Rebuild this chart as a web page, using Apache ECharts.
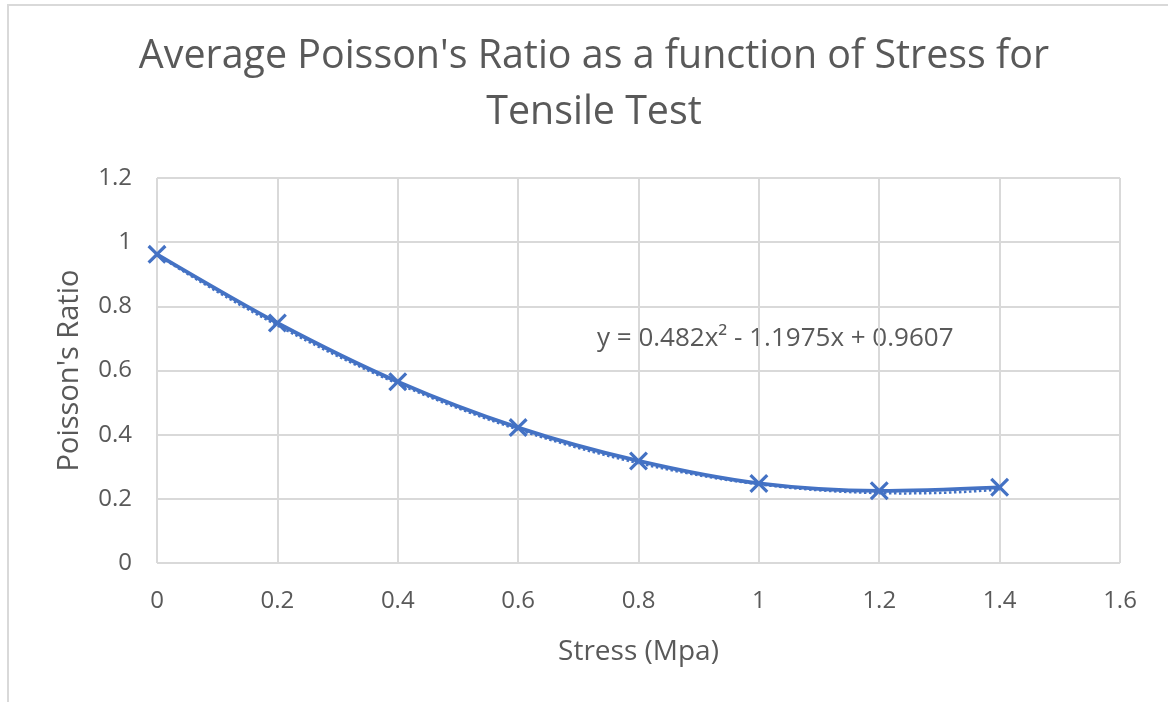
<!DOCTYPE html>
<html>
<head>
<meta charset="utf-8">
<script src="https://cdn.jsdelivr.net/npm/echarts@6/dist/echarts.min.js"></script>
<style>
  html, body { margin: 0; padding: 0; background: #fff; }
  #chart { width: 1168px; height: 702px; }
</style>
</head>
<body>
<div id="chart"></div>
<script>
// ---- data ----
const stress = [0, 0.2, 0.4, 0.6, 0.8, 1.0, 1.2, 1.4]
const poisson = [0.962, 0.748, 0.565, 0.422, 0.318, 0.248, 0.225, 0.236]
// trendline coefficients as printed on the chart (a, b, c for ax^2 + bx + c)
const trendCoef = [0.482, -1.1975, 0.9607]
const xTicks = [0, 0.2, 0.4, 0.6, 0.8, 1, 1.2, 1.4, 1.6]
const yTicks = [0, 0.2, 0.4, 0.6, 0.8, 1, 1.2]

const blue = '#4472C4'
const grey = '#595959'
const font = 'Open Sans'

// trendline sampled along the printed equation
const trendX = []
for (let i = 0; i <= 70; i++) trendX.push(i * 0.02)
const trend = trendX.map(x => [x, trendCoef[0] * x * x + trendCoef[1] * x + trendCoef[2]])

const crossPath = 'path://M0,1.2L1.2,0L5,3.8L8.8,0L10,1.2L6.2,5L10,8.8L8.8,10L5,6.2L1.2,10L0,8.8L3.8,5Z'

const chart = echarts.init(document.getElementById('chart'), null, { renderer: 'canvas' })
chart.setOption({
  animation: false,
  backgroundColor: '#fff',
  textStyle: { fontFamily: font },
  title: {
    text: "Average Poisson's Ratio as a function of Stress for\nTensile Test",
    left: 589,
    top: 24,
    textAlign: 'center',
    textStyle: { fontFamily: font, fontSize: 39.4, fontWeight: 'normal', color: grey, lineHeight: 56 }
  },
  graphic: [
    {
      type: 'rect',
      shape: { x: 8, y: 5, width: 1300, height: 900 },
      style: { fill: 'none', stroke: '#d9d9d9', lineWidth: 2 },
      silent: true
    },
    {
      type: 'text',
      left: 597,
      top: 326,
      style: { text: 'y = 0.482x² - 1.1975x + 0.9607', font: '26px "Open Sans"', fill: grey }
    }
  ],
  grid: { left: 157, right: 48, top: 178, bottom: 139 },
  xAxis: {
    type: 'value',
    min: 0, max: 1.6, interval: 0.2,
    name: 'Stress (Mpa)',
    nameLocation: 'middle',
    nameGap: 75,
    nameTextStyle: { fontFamily: font, fontSize: 28, color: grey },
    axisLine: { show: false },
    axisTick: { show: false },
    axisLabel: { color: grey, fontSize: 24, fontFamily: font, margin: 26,
      formatter: v => String(+v.toFixed(1)) },
    splitLine: { lineStyle: { color: '#d9d9d9', width: 2 } }
  },
  yAxis: {
    type: 'value',
    min: 0, max: 1.2, interval: 0.2,
    name: "Poisson's Ratio",
    nameLocation: 'middle',
    nameGap: 73,
    nameTextStyle: { fontFamily: font, fontSize: 29, color: grey },
    axisLine: { show: false },
    axisTick: { show: false },
    axisLabel: { color: grey, fontSize: 24, fontFamily: font, margin: 25,
      formatter: v => String(+v.toFixed(1)) },
    splitLine: { lineStyle: { color: '#d9d9d9', width: 2 } }
  },
  series: [
    {
      name: 'trend',
      type: 'line',
      data: trend,
      showSymbol: false,
      lineStyle: { color: blue, width: 2.5, type: 'dotted' },
      z: 1
    },
    {
      name: 'Poisson',
      type: 'line',
      data: stress.map((x, i) => [x, poisson[i]]),
      smooth: 0.3,
      symbol: crossPath,
      symbolSize: 19,
      showSymbol: true,
      itemStyle: { color: blue },
      lineStyle: { color: blue, width: 3.8 },
      z: 2
    }
  ]
})
</script>
</body>
</html>
